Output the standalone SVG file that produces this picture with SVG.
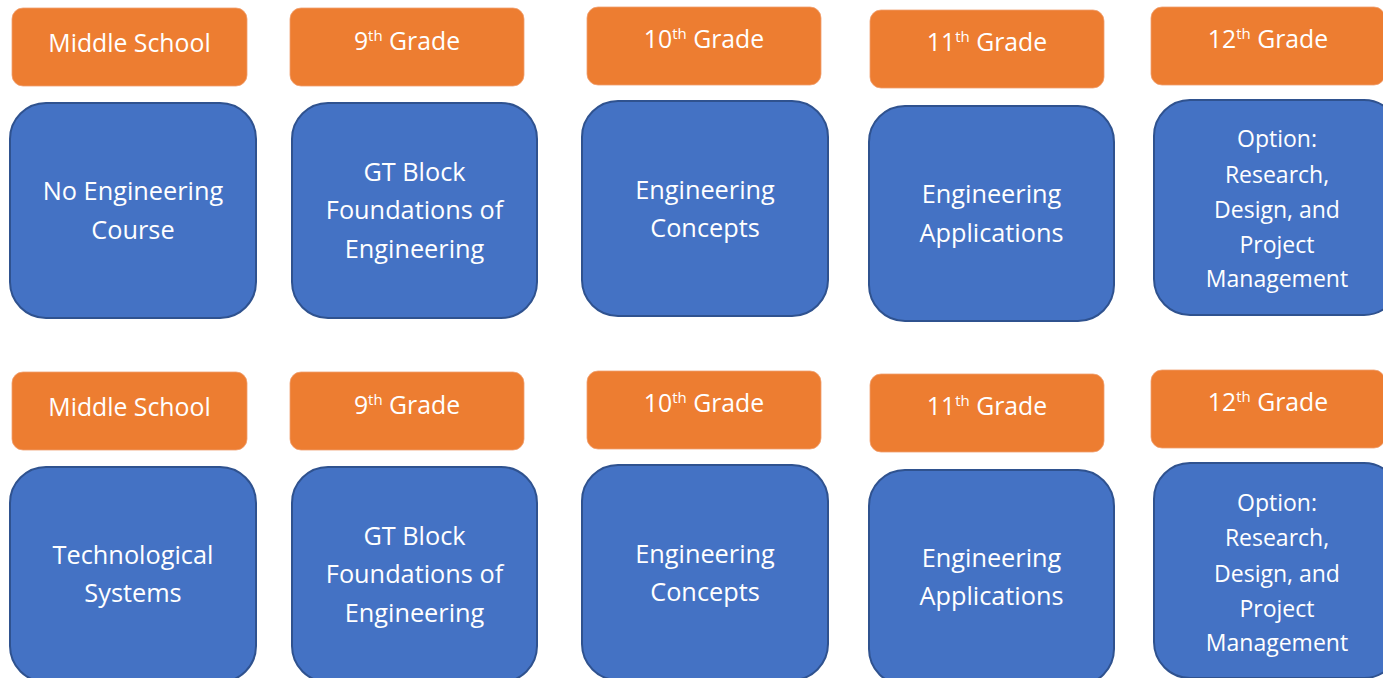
<svg xmlns="http://www.w3.org/2000/svg" width="1383" height="678" viewBox="0 0 1383 678">
<style>
.o{fill:#ED7D31;stroke:#F0A070;stroke-width:0.8}
.b{fill:#4472C4;stroke:#2F528F;stroke-width:2}
text{font-family:"Open Sans","Liberation Sans",sans-serif;fill:#FFFFFF;text-anchor:middle}
.ot{font-size:24.8px}
.bt{font-size:25.3px}
.st{font-size:23px}
.sup{font-size:15px}
</style>
<rect width="1383" height="678" fill="#FFFFFF"/>
<g id="r1-ms"><rect class="o" x="12" y="8" width="235" height="78" rx="11"/><text class="ot" x="129.5" y="52">Middle School</text></g>
<g id="r1-g9"><rect class="o" x="290" y="8" width="234" height="78" rx="11"/><text class="ot" x="407" y="50">9<tspan class="sup" dy="-9">th</tspan><tspan dy="9"> Grade</tspan></text></g>
<g id="r1-g10"><rect class="o" x="587" y="7" width="234" height="78" rx="11"/><text class="ot" x="704" y="48">10<tspan class="sup" dy="-9">th</tspan><tspan dy="9"> Grade</tspan></text></g>
<g id="r1-g11"><rect class="o" x="870" y="10" width="234" height="78" rx="11"/><text class="ot" x="987" y="51">11<tspan class="sup" dy="-9">th</tspan><tspan dy="9"> Grade</tspan></text></g>
<g id="r1-g12"><rect class="o" x="1151" y="7" width="234" height="78" rx="11"/><text class="ot" x="1268" y="48">12<tspan class="sup" dy="-9">th</tspan><tspan dy="9"> Grade</tspan></text></g>

<g id="r1-c1"><rect class="b" x="10" y="103" width="246" height="215" rx="36"/><text class="bt" x="133" y="200">No Engineering</text><text class="bt" x="133" y="239">Course</text></g>
<g id="r1-c2"><rect class="b" x="292" y="103" width="245" height="215" rx="36"/><text class="bt" x="414.5" y="181">GT Block</text><text class="bt" x="414.5" y="219">Foundations of</text><text class="bt" x="414.5" y="258">Engineering</text></g>
<g id="r1-c3"><rect class="b" x="582" y="101" width="246" height="215" rx="36"/><text class="bt" x="705" y="199">Engineering</text><text class="bt" x="705" y="237">Concepts</text></g>
<g id="r1-c4"><rect class="b" x="869" y="106" width="245" height="215" rx="36"/><text class="bt" x="991.5" y="203">Engineering</text><text class="bt" x="991.5" y="242">Applications</text></g>
<g id="r1-c5"><rect class="b" x="1154" y="100" width="246" height="215" rx="36"/><text class="st" x="1277" y="147">Option:</text><text class="st" x="1277" y="183">Research,</text><text class="st" x="1277" y="218">Design, and</text><text class="st" x="1277" y="253">Project</text><text class="st" x="1277" y="287">Management</text></g>

<g id="r2-ms"><rect class="o" x="12" y="372" width="235" height="78" rx="11"/><text class="ot" x="129.5" y="416">Middle School</text></g>
<g id="r2-g9"><rect class="o" x="290" y="372" width="234" height="78" rx="11"/><text class="ot" x="407" y="414">9<tspan class="sup" dy="-9">th</tspan><tspan dy="9"> Grade</tspan></text></g>
<g id="r2-g10"><rect class="o" x="587" y="371" width="234" height="78" rx="11"/><text class="ot" x="704" y="412">10<tspan class="sup" dy="-9">th</tspan><tspan dy="9"> Grade</tspan></text></g>
<g id="r2-g11"><rect class="o" x="870" y="374" width="234" height="78" rx="11"/><text class="ot" x="987" y="415">11<tspan class="sup" dy="-9">th</tspan><tspan dy="9"> Grade</tspan></text></g>
<g id="r2-g12"><rect class="o" x="1151" y="370" width="234" height="78" rx="11"/><text class="ot" x="1268" y="411">12<tspan class="sup" dy="-9">th</tspan><tspan dy="9"> Grade</tspan></text></g>

<g id="r2-c1"><rect class="b" x="10" y="467" width="246" height="215" rx="36"/><text class="bt" x="133" y="564">Technological</text><text class="bt" x="133" y="602">Systems</text></g>
<g id="r2-c2"><rect class="b" x="292" y="467" width="245" height="215" rx="36"/><text class="bt" x="414.5" y="545">GT Block</text><text class="bt" x="414.5" y="583">Foundations of</text><text class="bt" x="414.5" y="622">Engineering</text></g>
<g id="r2-c3"><rect class="b" x="582" y="465" width="246" height="215" rx="36"/><text class="bt" x="705" y="563">Engineering</text><text class="bt" x="705" y="601">Concepts</text></g>
<g id="r2-c4"><rect class="b" x="869" y="470" width="245" height="215" rx="36"/><text class="bt" x="991.5" y="567">Engineering</text><text class="bt" x="991.5" y="605">Applications</text></g>
<g id="r2-c5"><rect class="b" x="1154" y="463" width="246" height="215" rx="36"/><text class="st" x="1277" y="511">Option:</text><text class="st" x="1277" y="546">Research,</text><text class="st" x="1277" y="582">Design, and</text><text class="st" x="1277" y="617">Project</text><text class="st" x="1277" y="651">Management</text></g>
<g id="connectors"/>
</svg>
